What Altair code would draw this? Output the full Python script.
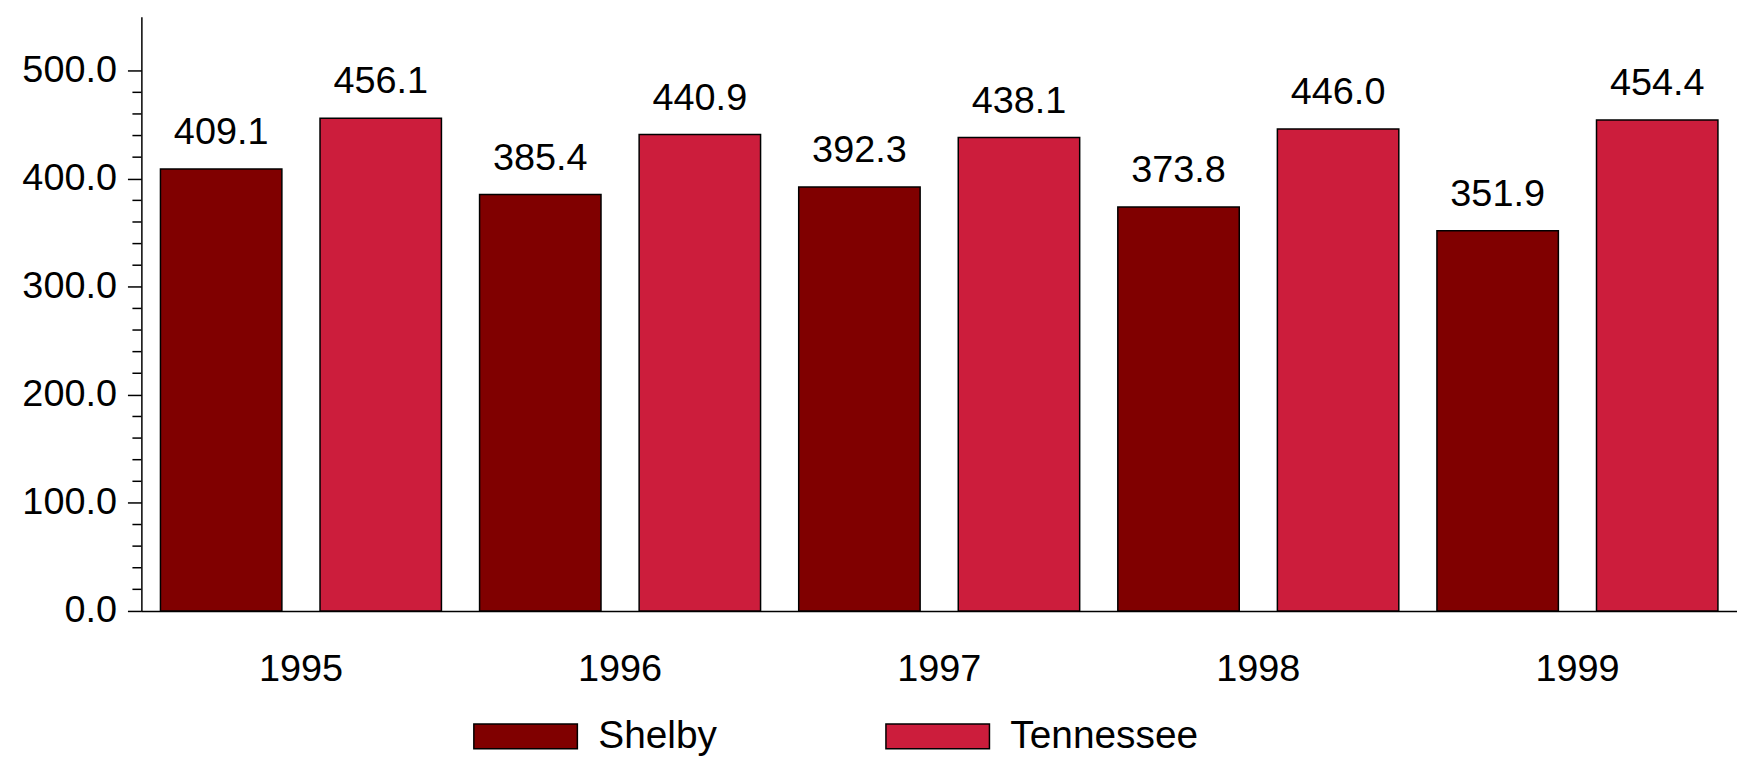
import altair as alt
import pandas as pd

years = ["1995", "1996", "1997", "1998", "1999"]
series = ["Shelby", "Tennessee"]
shelby = [409.1, 385.4, 392.3, 373.8, 351.9]
tennessee = [456.1, 440.9, 438.1, 446.0, 454.4]
colors = ["#800000", "#CC1D3C"]
major_ticks = [0, 100, 200, 300, 400, 500]
minor_ticks = [v for v in range(20, 500, 20) if v % 100 != 0]

rows = []
for i, y in enumerate(years):
    rows.append({"year": y, "series": "Shelby", "value": shelby[i]})
    rows.append({"year": y, "series": "Tennessee", "value": tennessee[i]})
df = pd.DataFrame(rows)
minor_df = pd.DataFrame({"t": minor_ticks})

FONT = "Liberation Sans"

x_enc = alt.X("year:N", sort=years, title=None,
              scale=alt.Scale(paddingInner=0, paddingOuter=0),
              axis=alt.Axis(labelFontSize=38, labelFont=FONT, labelColor="black",
                            labelPadding=40, ticks=False, domainColor="black",
                            domainWidth=1.5, labelAngle=0))
xoff = alt.XOffset("series:N", sort=series,
                   scale=alt.Scale(paddingInner=0.239, paddingOuter=0.1195))
y_enc = alt.Y("value:Q", title=None,
              scale=alt.Scale(domain=[0, 550], nice=False, zero=True),
              axis=alt.Axis(values=major_ticks, format=".1f", labelFontSize=38,
                            labelFont=FONT, labelColor="black", tickSize=14,
                            tickColor="black", tickWidth=1.5, labelPadding=11,
                            domainColor="black", domainWidth=1.5, grid=False))

bars = alt.Chart(df).mark_bar(stroke="black", strokeWidth=1.5).encode(
    x=x_enc, xOffset=xoff, y=y_enc,
    color=alt.Color("series:N", sort=series,
                    scale=alt.Scale(domain=series, range=colors),
                    legend=alt.Legend(orient="none", legendX=333, legendY=670,
                                      direction="horizontal", title=None,
                                      symbolType="M-1,-0.24H1V0.24H-1Z",
                                      symbolSize=10816, symbolStrokeColor="black",
                                      symbolStrokeWidth=1.5, symbolOpacity=1,
                                      labelFontSize=39, labelFont=FONT,
                                      labelColor="black", columnPadding=166,
                                      labelOffset=20, labelLimit=500, padding=0)),
)

labels = alt.Chart(df).mark_text(fontSize=38, font=FONT, color="black",
                                 baseline="alphabetic", dy=-25).encode(
    x=alt.X("year:N", sort=years), xOffset=alt.XOffset("series:N", sort=series),
    y=alt.Y("value:Q"), text=alt.Text("value:Q", format=".1f"),
)

minor = alt.Chart(minor_df).mark_rule(color="black", strokeWidth=1.5).encode(
    y=alt.Y("t:Q"), x=alt.value(-9), x2=alt.value(0),
)

chart = alt.layer(bars, labels, minor).properties(
    width=1603, height=597,
    autosize=alt.AutoSizeParams(type="none"),
    padding={"left": 134, "top": 7, "right": 0, "bottom": 148},
).configure_view(stroke=None)

chart.save("out.html", embed_options={"renderer": "svg", "actions": False})
